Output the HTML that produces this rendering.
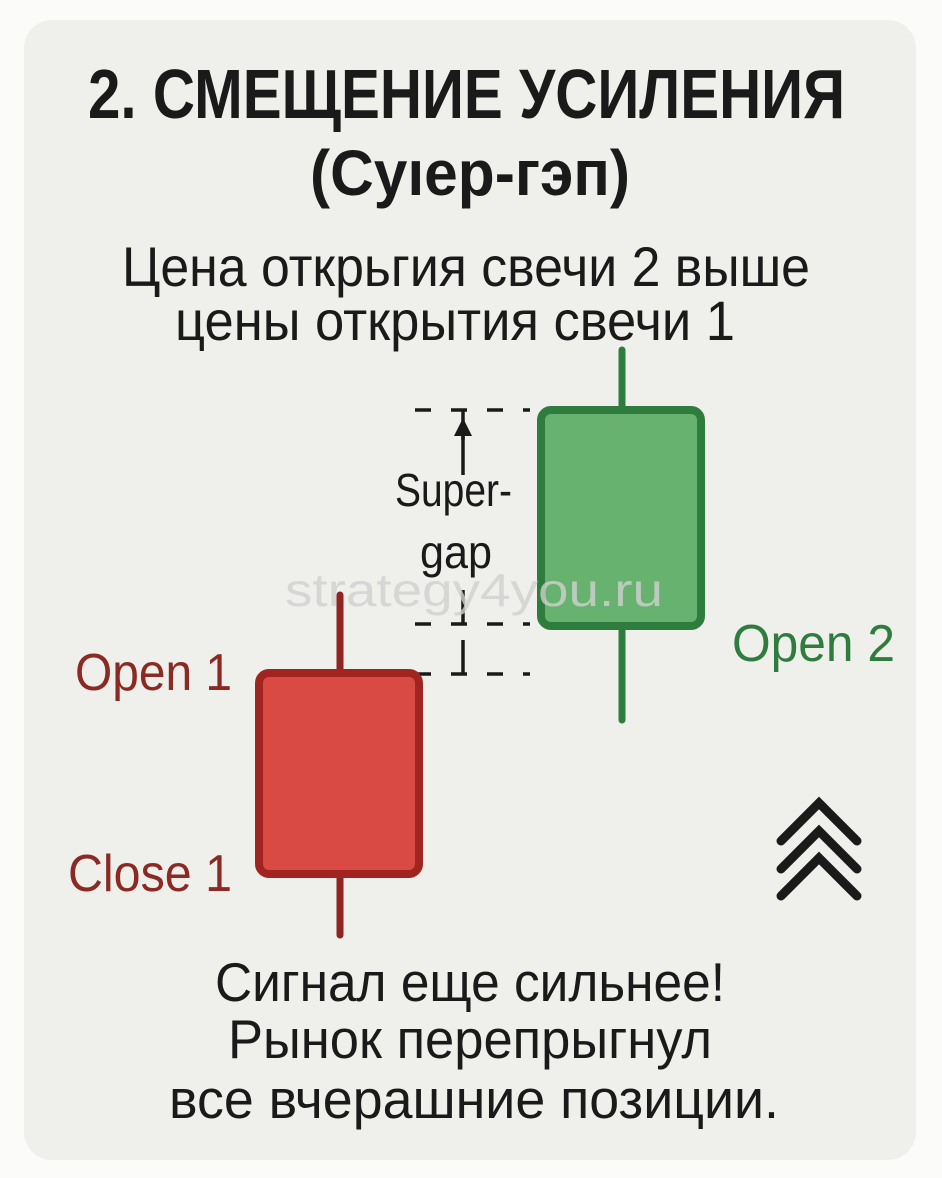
<!DOCTYPE html>
<html><head><meta charset="utf-8"><style>
html,body{margin:0;padding:0;background:#fff;}
svg{display:block}
text{font-family:"Liberation Sans Narrow","Liberation Sans",sans-serif;}
</style></head><body>
<svg width="942" height="1178" viewBox="0 0 942 1178" xmlns="http://www.w3.org/2000/svg">
<rect x="0" y="0" width="942" height="1178" fill="#fbfbfa"/>
<rect x="24" y="20" width="892" height="1140" rx="28" fill="#efefec"/>
<text x="88" y="118" font-size="70" font-weight="bold" fill="#1a1a1a" textLength="757" lengthAdjust="spacingAndGlyphs">2. СМЕЩЕНИЕ УСИЛЕНИЯ</text>
<text x="310" y="195" font-size="64" font-weight="bold" fill="#1a1a1a" textLength="320" lengthAdjust="spacingAndGlyphs">(Суıер-гэп)</text>
<text x="122" y="286" font-size="56" fill="#1a1a1a" textLength="688" lengthAdjust="spacingAndGlyphs">Цена открьгия свечи 2 выше</text>
<text x="175" y="340" font-size="56" fill="#1a1a1a" textLength="560" lengthAdjust="spacingAndGlyphs">цены открытия свечи 1</text>
<!-- gap markers -->
<g stroke="#1a1a1a" stroke-width="3.5" fill="none">
<path d="M415 410H530" stroke-dasharray="16,20"/>
<path d="M415 624H530" stroke-dasharray="16,20"/>
<path d="M415 674H530" stroke-dasharray="16,20"/>
<path d="M463 422V475"/>
<path d="M463 590V624"/>
<path d="M463 640V674"/>
<path d="M463 410V440"/>
</g>
<path d="M463 418 L454 436 L472 436 Z" fill="#1a1a1a"/>
<text x="395" y="506" font-size="46" fill="#1a1a1a" textLength="117" lengthAdjust="spacingAndGlyphs">Super-</text>
<text x="420" y="568" font-size="46" fill="#1a1a1a" textLength="72" lengthAdjust="spacingAndGlyphs">gap</text>
<!-- green candle -->
<path d="M622 350V720" stroke="#2f7d3e" stroke-width="7" stroke-linecap="round"/>
<rect x="541" y="410" width="160" height="216" rx="10" fill="#67b26f" stroke="#2f7d3e" stroke-width="8"/>
<!-- red candle -->
<path d="M340 595V935" stroke="#8f2420" stroke-width="7" stroke-linecap="round"/>
<rect x="259" y="673" width="160" height="201" rx="10" fill="#d84a43" stroke="#a0241f" stroke-width="8"/>
<text x="285" y="606" font-size="46" fill="#d0d0ce" fill-opacity="0.8" textLength="378" lengthAdjust="spacingAndGlyphs">strategy4you.ru</text>
<text x="75" y="690" font-size="52" fill="#8b2a22" textLength="157" lengthAdjust="spacingAndGlyphs">Open 1</text>
<text x="68" y="891" font-size="52" fill="#8b2a22" textLength="164" lengthAdjust="spacingAndGlyphs">Close 1</text>
<text x="732" y="661" font-size="52" fill="#2f7d3e" textLength="163" lengthAdjust="spacingAndGlyphs">Open 2</text>
<!-- chevrons -->
<g stroke="#1a1a1a" stroke-width="9" fill="none" stroke-linecap="round" stroke-linejoin="miter">
<path d="M781 841 L819 803 L857 841"/>
<path d="M781 869 L819 831 L857 869"/>
<path d="M781 896 L819 858 L857 896"/>
</g>
<text x="470" y="1001" font-size="55" fill="#1a1a1a" text-anchor="middle" textLength="510" lengthAdjust="spacingAndGlyphs">Сигнал еще сильнее!</text>
<text x="470" y="1058" font-size="55" fill="#1a1a1a" text-anchor="middle" textLength="484" lengthAdjust="spacingAndGlyphs">Рынок перепрыгнул</text>
<text x="474" y="1118" font-size="55" fill="#1a1a1a" text-anchor="middle" textLength="610" lengthAdjust="spacingAndGlyphs">все вчерашние позиции.</text>
</svg>
</body></html>
